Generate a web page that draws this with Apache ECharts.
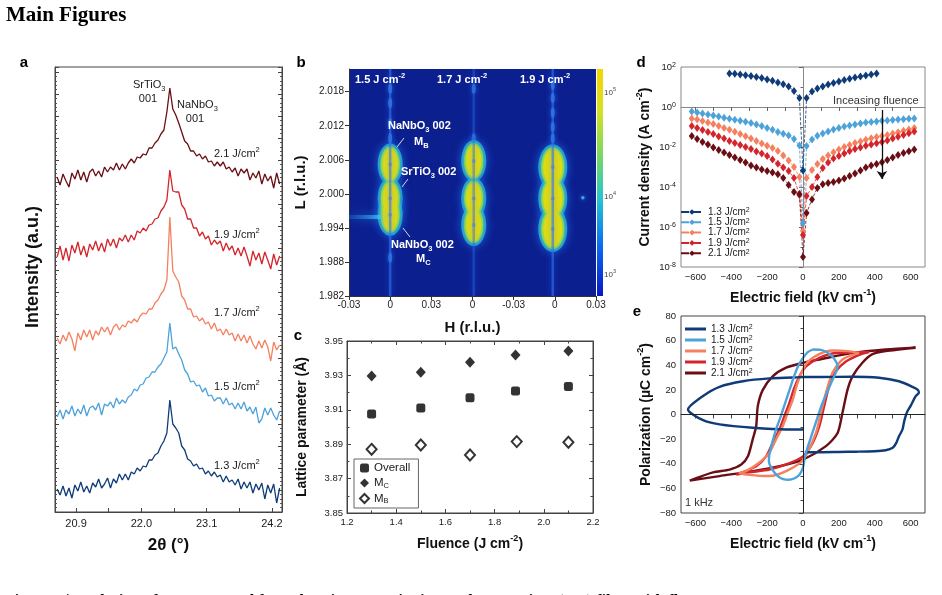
<!DOCTYPE html>
<html>
<head>
<meta charset="utf-8">
<title>Main Figures</title>
<script src="https://cdn.jsdelivr.net/npm/echarts@6/dist/echarts.min.js"></script>
<style>
html,body{margin:0;padding:0;background:#fff;}
#main{width:942px;height:595px;}
</style>
</head>
<body>
<div id="main"></div>
<script>
// ---- a : XRD 2theta scans, offset vertically (a.u.)
var twoTheta = [20.58,20.63,20.68,20.73,20.78,20.83,20.88,20.93,20.98,21.03,
  21.08,21.13,21.18,21.23,21.28,21.33,21.38,21.43,21.48,21.53,
  21.58,21.63,21.68,21.73,21.78,21.83,21.88,21.93,21.98,22.03,
  22.08,22.13,22.18,22.23,22.28,22.33,22.38,22.43,22.48,22.53,
  22.58,22.63,22.68,22.73,22.78,22.83,22.88,22.93,22.98,23.03,
  23.08,23.13,23.18,23.23,23.28,23.33,23.38,23.43,23.48,23.53,
  23.58,23.63,23.68,23.73,23.78,23.83,23.88,23.93,23.98,24.03,
  24.08,24.13,24.18,24.23,24.28,24.33];
var xrd13 = [23,17,26,16,24,14,27,21,30,20,26,19,29,25,33,24,28,34,24,33,
  29,38,32,38,32,40,38,44,41,46,45,52,52,57,59,66,71,79,112,88,
  84,79,66,62,53,51,46,48,43,44,38,41,36,40,35,37,30,36,30,32,
  27,33,23,30,24,30,19,28,22,29,13,27,19,28,9,24];
var xrd15 = [95,102,93,102,98,106,96,103,98,107,96,104,106,102,109,97,108,106,110,104,
  114,108,112,109,115,117,123,121,127,128,134,135,140,140,145,148,154,160,189,163,
  165,158,152,142,138,130,131,126,127,120,124,116,117,111,114,114,108,114,107,109,
  103,109,103,110,101,105,98,105,89,93,104,97,104,97,92,101];
var xrd17 = [174,168,177,171,180,173,161,179,172,182,175,182,172,181,177,185,180,185,177,185,
  188,182,187,185,191,189,193,190,196,199,198,203,203,209,212,218,222,232,295,241,
  235,230,216,212,203,203,195,196,191,194,188,190,183,189,181,183,177,183,177,179,
  171,178,171,177,169,176,168,163,171,164,172,165,151,170,162,167];
var xrd19 = [255,266,252,264,251,267,259,270,257,266,255,268,262,271,261,269,260,273,266,273,
  264,274,271,277,270,277,272,281,279,284,281,287,288,293,294,301,305,312,342,321,
  320,320,307,303,293,293,284,284,276,280,273,276,267,272,268,271,261,269,262,266,
  257,264,256,265,256,246,261,252,259,248,260,252,243,258,247,256];
var xrd21 = [335,327,338,331,325,339,333,342,332,340,330,340,343,336,341,335,345,340,345,342,
  349,342,348,343,349,353,349,355,354,358,357,364,364,369,372,378,382,400,424,403,
  397,389,380,371,368,361,361,356,358,353,356,350,351,346,350,346,350,343,345,340,
  344,336,343,339,343,332,339,334,341,328,338,331,336,324,339,328];
var xrdTickLabels = [20.9, 22.0, 23.1, 24.2];

// ---- b : reciprocal space maps around 002 (three maps side by side)
var rsmAxisTicks = ['-0.03', '0', '0.03', '0', '-0.03', '0', '0.03'];
var rsmTitles = ['1.5', '1.7', '1.9'];
var rsmCentreH = [1.0, 3.03, 4.95];
var rsmSpotL = [[2.0052, 1.9992, 1.9963], [2.0058, 1.9992, 1.9945], [2.0047, 1.9992, 1.9938]];
var rsmFringeL = [[2.0185, 2.016, 2.0125, 2.0098, 1.9888], [2.0185, 2.0098], [2.0192, 2.0169, 2.0143, 2.0118, 2.0098]];
var rsmLTicks = [1.982, 1.988, 1.994, 2.000, 2.006, 2.012, 2.018];

// ---- c : lattice parameters
var fluence = [1.3, 1.5, 1.7, 1.885, 2.1];
var fluenceMB = [1.3, 1.5, 1.7, 1.89, 2.1];
var latOverall = [3.9075, 3.911, 3.917, 3.921, 3.9235];
var latMC = [3.9297, 3.9318, 3.9376, 3.9419, 3.9442];
var latMB = [3.887, 3.8895, 3.8837, 3.8915, 3.8911];

// ---- d : leakage current, log10(J / A cm-2)
var fieldJ = [-620,-590,-560,-530,-500,-470,-440,-410,-380,-350,-320,-290,-260,-230,-200,-170,-140,-110,-80,-50,-20,
  0,20,50,80,110,140,170,200,230,260,290,320,350,380,410,440,470,500,530,560,590,620];
var logJ13 = ['-','-','-','-','-','-','-',1.68,1.66,1.62,1.59,1.55,1.50,1.45,1.38,1.31,1.23,1.14,1.02,0.80,0.45,
  -3.18,0.45,0.78,0.92,1.03,1.12,1.20,1.28,1.35,1.41,1.47,1.52,1.57,1.62,1.67,'-','-','-','-','-','-','-'];
var logJ15 = [-0.22,-0.27,-0.32,-0.37,-0.42,-0.48,-0.54,-0.59,-0.64,-0.69,-0.74,-0.80,-0.87,-0.95,-1.05,-1.14,-1.25,-1.34,-1.43,-1.60,-1.92,
  -5.8,-1.95,-1.62,-1.44,-1.32,-1.22,-1.12,-1.05,-0.98,-0.92,-0.87,-0.82,-0.78,-0.75,-0.72,-0.69,-0.67,-0.65,-0.63,-0.61,-0.59,-0.57];
var logJ17 = [-0.57,-0.63,-0.70,-0.77,-0.85,-0.95,-1.05,-1.14,-1.24,-1.35,-1.46,-1.58,-1.70,-1.82,-1.94,-2.05,-2.20,-2.42,-2.68,-3.00,-3.50,
  -6.2,-3.55,-3.15,-2.85,-2.60,-2.42,-2.26,-2.12,-2.00,-1.90,-1.80,-1.72,-1.64,-1.56,-1.50,-1.45,-1.40,-1.33,-1.26,-1.19,-1.12,-1.05];
var logJ19 = [-0.95,-1.05,-1.15,-1.25,-1.35,-1.47,-1.58,-1.70,-1.80,-1.90,-2.00,-2.10,-2.22,-2.33,-2.45,-2.62,-2.84,-3.02,-3.20,-3.55,-4.40,
  -6.4,-4.45,-4.00,-3.50,-3.05,-2.78,-2.58,-2.45,-2.33,-2.20,-2.10,-2.02,-1.94,-1.87,-1.81,-1.75,-1.68,-1.58,-1.49,-1.40,-1.31,-1.22];
var logJ21 = [-1.45,-1.60,-1.75,-1.88,-2.02,-2.15,-2.27,-2.40,-2.53,-2.65,-2.78,-2.92,-3.03,-3.12,-3.20,-3.28,-3.36,-3.55,-3.90,-4.25,-4.35,
  -7.5,-5.30,-4.62,-4.05,-3.86,-3.80,-3.75,-3.68,-3.58,-3.45,-3.33,-3.18,-3.03,-2.93,-2.85,-2.76,-2.65,-2.52,-2.40,-2.30,-2.21,-2.12];
var fieldTicks = [-600, -400, -200, 0, 200, 400, 600];

// ---- e : P-E hysteresis loops at 1 kHz
var loopE13 = [10,100,200,300,400,460,500,520,535,545,555,565,580,600,628,646,640,610,535,424,276,100,0,-57,-187,-335,-465,-557,-641,-557,-465,-280,-94,0];
var loopP13 = [-30.6,-30.6,-30.4,-30.2,-29.8,-29,-27,-23,-17.6,-15,-12,-5,2,7,15,17.6,20,22.5,27,29.8,30.6,30.5,30.4,30,29.3,27,22.5,15,4,-4.6,-8,-10.8,-12.2,-12.2];
var loopE15 = [54,100,140,175,193,180,155,128,100,75,50,25,10,0,-20,-50,-80,-110,-140,-170,-190,-188,-170,-150,-125,-100,-75,-50,-25,0,25,54];
var loopP15 = [52.8,52.5,50,45,39,33,25,16,6,-5,-16,-27,-35,-43,-49,-52,-53,-52.5,-50,-45,-38,-33,-22,-12,-2,9,20,31,40,46,50.5,52.8];
var loopE17 = [313,250,165,90,17,-30,-57,-85,-113,-150,-187,-243,-317,-354,-300,-187,-94,0,72,100,128,165,220,313];
var loopP17 = [50,51.5,52,49,41,26,12,1.4,-9.5,-20,-31,-39,-46,-47.5,-49,-50,-46,-37,-15,1.4,17.6,34,44.7,50];
var loopE19 = [369,313,239,183,91,17,-20,-48,-76,-104,-131,-169,-205,-261,-372,-300,-187,-94,0,54,91,118,146,183,239,313,369];
var loopP19 = [50.7,50.5,50.2,50,46,39,31,21.7,9.5,-1.4,-12,-23,-34,-42,-48.8,-47,-44.7,-40.6,-34,-23,-9.5,6.8,23,35,43,48.5,50.7];
var loopE21 = [628,461,276,91,0,-94,-169,-224,-252,-261,-280,-307,-344,-409,-502,-631,-465,-280,-131,0,128,193,220,248,276,331,387,461,628];
var loopP21 = [54.2,52.8,50,44.7,42,38,31,20,6.8,-9.5,-20,-34,-40.6,-44.7,-47,-53.7,-50,-46,-42,-36.6,-25.7,-15,1.4,20,31,42,49,51.5,54.2];

var fluenceNames = ['1.3', '1.5', '1.7', '1.9', '2.1'];
var fluenceColors = ['#0f3b78', '#4ea2da', '#f5805f', '#d3252b', '#6a0e15'];

var FONT = 'Liberation Sans, Arial, sans-serif';
var INK = '#1a1a1a';

function zip(xs, ys) {
  var out = [];
  for (var i = 0; i < xs.length; i++) {
    if (ys[i] !== '-') out.push([xs[i], ys[i]]);
  }
  return out;
}
function minusFmt(v) {
  return (v < 0 ? '\u2212' : '') + Math.abs(v);
}
function richSet(size, weight, fill) {
  return {
    n: {fontSize: size, lineHeight: size + 4, fontWeight: weight, fill: fill, color: fill, fontFamily: FONT},
    s: {fontSize: size * 0.68, lineHeight: size * 0.6, verticalAlign: 'bottom', fontWeight: weight, fill: fill, color: fill, fontFamily: FONT},
    p: {fontSize: size * 0.68, lineHeight: size * 0.6, verticalAlign: 'top', fontWeight: weight, fill: fill, color: fill, fontFamily: FONT}
  };
}
function txt(x, y, text, o) {
  o = o || {};
  var size = o.size || 11, weight = o.weight || 'normal', fill = o.fill || INK;
  return {
    type: 'text', x: x, y: y, rotation: o.rotation || 0, silent: true, z: 100,
    style: {
      text: text, fill: fill, fontSize: size, fontWeight: weight,
      fontFamily: o.family || FONT,
      align: o.align || 'left', textAlign: o.align || 'left',
      verticalAlign: o.valign || 'middle', textVerticalAlign: o.valign || 'middle',
      rich: richSet(size, weight, fill)
    }
  };
}
function axisName(size) {
  return {fontWeight: 'bold', fontSize: size, color: '#111', fontFamily: FONT, lineHeight: size + 6,
    rich: {p: {fontWeight: 'bold', fontSize: size * 0.65, lineHeight: size * 0.6, verticalAlign: 'top', color: '#111'}}};
}
function frameAxis(color) {
  return {show: true, lineStyle: {color: color, width: 1}};
}

var series = [];

// a
[xrd13, xrd15, xrd17, xrd19, xrd21].forEach(function (ys, i) {
  series.push({
    type: 'line', xAxisIndex: 0, yAxisIndex: 0, data: zip(twoTheta, ys),
    showSymbol: false, symbol: 'none', silent: true,
    lineStyle: {color: fluenceColors[i], width: 1.3}
  });
});

// b
rsmSpotL.forEach(function (ls, m) {
  var h = rsmCentreH[m];
  var spots = ls.map(function (l) { return [h, l]; });
  var fringes = rsmFringeL[m].map(function (l) { return [h, l]; });
  var w = m === 2 ? 19 : 15, hh = m === 2 ? 36 : 32;
  series.push({
    type: 'line', xAxisIndex: 1, yAxisIndex: 2, data: [[h, 1.982], [h, 2.022]],
    symbol: 'none', silent: true,
    lineStyle: {color: m === 1 ? 'rgba(40,100,230,0.45)' : 'rgba(45,115,240,0.6)', width: 2.5, shadowBlur: 6, shadowColor: 'rgba(40,110,255,0.8)'}
  });
  series.push({
    type: 'scatter', xAxisIndex: 1, yAxisIndex: 2, data: fringes, silent: true,
    symbol: 'circle', symbolSize: [4, 10],
    itemStyle: {color: 'rgba(70,165,240,0.65)', shadowBlur: 5, shadowColor: 'rgba(50,140,255,0.8)'}
  });
  if (m === 0) {
    series.push({
      type: 'line', xAxisIndex: 1, yAxisIndex: 2, data: [[0, 1.9959], [h - 0.2, 1.9959]],
      symbol: 'none', silent: true,
      lineStyle: {width: 4, shadowBlur: 10, shadowColor: 'rgba(40,150,255,0.9)',
        color: new echarts.graphic.LinearGradient(0, 0, 1, 0, [
          {offset: 0, color: 'rgba(30,110,240,0.25)'}, {offset: 0.6, color: 'rgba(50,170,240,0.6)'}, {offset: 1, color: 'rgba(70,210,230,0.9)'}])}
    });
  }
  series.push({
    type: 'scatter', xAxisIndex: 1, yAxisIndex: 2, data: spots, silent: true,
    symbol: 'circle', symbolSize: [w + 10, hh + 10],
    itemStyle: {color: '#2bb8d4', shadowBlur: 8, shadowColor: 'rgba(30,120,240,1)'}
  });
  series.push({
    type: 'scatter', xAxisIndex: 1, yAxisIndex: 2, data: spots, silent: true,
    symbol: 'circle', symbolSize: [w + 4, hh + 4],
    itemStyle: {color: '#8bd85a', shadowBlur: 2, shadowColor: '#8bd85a'}
  });
  series.push({
    type: 'scatter', xAxisIndex: 1, yAxisIndex: 2, data: spots, silent: true,
    symbol: 'circle', symbolSize: [w, hh],
    itemStyle: {color: '#eadc0a', shadowBlur: 3, shadowColor: '#d0e020'}
  });
});
series.push({
  type: 'scatter', xAxisIndex: 1, yAxisIndex: 2, silent: true,
  data: [].concat.apply([], rsmSpotL.map(function (ls, m) { return ls.map(function (l) { return [rsmCentreH[m], l]; }); })),
  symbol: 'circle', symbolSize: 4, itemStyle: {color: '#9d9cb0'}
});
series.push({
  type: 'scatter', xAxisIndex: 1, yAxisIndex: 2, silent: true, data: [[5.68, 1.9993]],
  symbol: 'circle', symbolSize: 3.5, itemStyle: {color: '#3fc6ef', shadowBlur: 4, shadowColor: '#3fa0ff'}
});

// c
series.push({
  name: 'Overall', type: 'scatter', xAxisIndex: 2, yAxisIndex: 3, data: zip(fluence, latOverall),
  symbol: 'roundRect', symbolSize: 9, itemStyle: {color: '#000'}
});
series.push({
  name: 'MC', type: 'scatter', xAxisIndex: 2, yAxisIndex: 3, data: zip(fluence, latMC),
  symbol: 'diamond', symbolSize: [10, 11], itemStyle: {color: '#000'}
});
series.push({
  name: 'MB', type: 'scatter', xAxisIndex: 2, yAxisIndex: 3, data: zip(fluenceMB, latMB),
  symbol: 'emptyDiamond', symbolSize: [10, 11], itemStyle: {color: '#000', borderWidth: 1.2}
});

// d
[logJ13, logJ15, logJ17, logJ19, logJ21].forEach(function (ys, i) {
  var s = {
    name: 'd' + fluenceNames[i], type: 'line', xAxisIndex: 4, yAxisIndex: 5, data: zip(fieldJ, ys),
    symbol: 'diamond', symbolSize: [6, 8], showAllSymbol: true, silent: true,
    itemStyle: {color: fluenceColors[i]},
    lineStyle: {color: fluenceColors[i], width: 0.8, type: 'dashed'}
  };
  if (i === 0) {
    s.markLine = {
      silent: true, symbol: ['none', 'arrow'], symbolSize: 8, animation: false,
      label: {show: false}, lineStyle: {color: '#111', width: 1.3, type: 'solid'},
      data: [[{coord: [440, -0.15]}, {coord: [440, -3.6]}]]
    };
  }
  series.push(s);
});

// e
var loops = [[loopE13, loopP13], [loopE15, loopP15], [loopE17, loopP17], [loopE19, loopP19], [loopE21, loopP21]];
[4, 3, 2, 0, 1].forEach(function (i) {
  var s = {
    name: 'e' + fluenceNames[i], type: 'line', xAxisIndex: 5, yAxisIndex: 6,
    data: zip(loops[i][0], loops[i][1]), symbol: 'none', smooth: 0.25, silent: true,
    itemStyle: {color: fluenceColors[i]},
    lineStyle: {color: fluenceColors[i], width: 2.4}
  };
  if (i === 4) {
    s.markLine = {
      silent: true, symbol: 'none', animation: false, label: {show: false},
      lineStyle: {color: '#222', width: 1, type: 'solid'},
      data: [{xAxis: 0}, {yAxis: 0}]
    };
  }
  series.push(s);
});

var legendRich = {
  n: {fontSize: 10, lineHeight: 10, color: INK, fontFamily: FONT},
  p: {fontSize: 7, lineHeight: 6, verticalAlign: 'top', color: INK, fontFamily: FONT}
};
function fluenceLegend(name) {
  return '{n|' + name.slice(1) + ' J/cm}{p|2}';
}

var option = {
  animation: false,
  textStyle: {fontFamily: FONT},
  grid: [
    {left: 55, top: 67, width: 227, height: 445, show: true, borderColor: '#444', borderWidth: 1},
    {left: 349, top: 69, width: 247, height: 227, show: true, borderWidth: 0, backgroundColor: '#0c1f8f'},
    {left: 347, top: 341, width: 246, height: 172, show: true, borderColor: '#444', borderWidth: 1},
    {left: 681, top: 67, width: 244, height: 200, show: true, borderColor: '#888', borderWidth: 1},
    {left: 681, top: 316, width: 244, height: 197, show: true, borderColor: '#444', borderWidth: 1}
  ],
  xAxis: [
    {gridIndex: 0, type: 'value', min: 20.545, max: 24.37,
      axisLine: frameAxis('#444'), splitLine: {show: false},
      axisTick: {inside: true, length: 4, customValues: [20.9, 21.45, 22.0, 22.55, 23.1, 23.65, 24.2], lineStyle: {color: '#444'}},
      axisLabel: {customValues: xrdTickLabels, formatter: function (v) { return v.toFixed(1); }, fontSize: 11, color: INK, margin: 6},
      name: '2\u03b8 (\u00b0)', nameLocation: 'middle', nameGap: 19, nameTextStyle: axisName(17)},
    {gridIndex: 1, type: 'value', min: 0, max: 6, interval: 1,
      axisLine: {show: true, lineStyle: {color: '#333'}}, splitLine: {show: false},
      axisTick: {length: 4, lineStyle: {color: '#333'}},
      axisLabel: {formatter: function (v) { return rsmAxisTicks[Math.round(v)]; }, fontSize: 10, color: INK, margin: 4},
      name: 'H (r.l.u.)', nameLocation: 'middle', nameGap: 21, nameTextStyle: axisName(15)},
    {gridIndex: 2, type: 'value', min: 1.2, max: 2.2, interval: 0.2,
      axisLine: frameAxis('#444'), splitLine: {show: false},
      axisTick: {inside: true, length: 4, lineStyle: {color: '#444'}},
      minorTick: {show: true, splitNumber: 2, length: 2.5, lineStyle: {color: '#444'}},
      axisLabel: {formatter: function (v) { return v.toFixed(1); }, fontSize: 9.5, color: INK, margin: 4},
      name: 'Fluence (J cm{p|-2})', nameLocation: 'middle', nameGap: 21, nameTextStyle: axisName(14)},
    {gridIndex: 2, type: 'value', position: 'top', min: 1.2, max: 2.2, interval: 0.2,
      axisLine: frameAxis('#444'), splitLine: {show: false}, axisLabel: {show: false},
      axisTick: {inside: true, length: 4, lineStyle: {color: '#444'}},
      minorTick: {show: true, splitNumber: 2, length: 2.5, lineStyle: {color: '#444'}}},
    {gridIndex: 3, type: 'value', min: -680, max: 680,
      axisLine: frameAxis('#888'), splitLine: {show: false},
      axisTick: {length: 4, customValues: [-600, -500, -400, -300, -200, -100, 0, 100, 200, 300, 400, 500, 600], lineStyle: {color: '#666'}},
      axisLabel: {customValues: fieldTicks, formatter: minusFmt, fontSize: 9.5, color: INK, margin: 5},
      name: 'Electric field (kV cm{p|-1})', nameLocation: 'middle', nameGap: 21, nameTextStyle: axisName(14)},
    {gridIndex: 4, type: 'value', min: -680, max: 680,
      axisLine: frameAxis('#444'), splitLine: {show: false},
      axisTick: {length: 4, customValues: [-600, -500, -400, -300, -200, -100, 0, 100, 200, 300, 400, 500, 600], lineStyle: {color: '#444'}},
      axisLabel: {customValues: fieldTicks, formatter: minusFmt, fontSize: 9.5, color: INK, margin: 5},
      name: 'Electric field (kV cm{p|-1})', nameLocation: 'middle', nameGap: 21, nameTextStyle: axisName(14)}
  ],
  yAxis: [
    {gridIndex: 0, type: 'value', min: 0, max: 445, interval: 22,
      axisLine: frameAxis('#444'), splitLine: {show: false}, axisLabel: {show: false},
      axisTick: {inside: true, length: 4, lineStyle: {color: '#444'}},
      minorTick: {show: true, splitNumber: 5, length: 2, lineStyle: {color: '#555'}}},
    {gridIndex: 0, type: 'value', position: 'right', min: 0, max: 445, interval: 22,
      axisLine: frameAxis('#444'), splitLine: {show: false}, axisLabel: {show: false},
      axisTick: {inside: true, length: 4, lineStyle: {color: '#444'}},
      minorTick: {show: true, splitNumber: 5, length: 2, lineStyle: {color: '#555'}}},
    {gridIndex: 1, type: 'value', min: 1.982, max: 2.022,
      axisLine: {show: true, lineStyle: {color: '#333'}}, splitLine: {show: false},
      axisTick: {length: 4, customValues: rsmLTicks, lineStyle: {color: '#333'}},
      axisLabel: {customValues: rsmLTicks, formatter: function (v) { return v.toFixed(3); }, fontSize: 10, color: INK, margin: 5},
      name: 'L (r.l.u.)', nameLocation: 'middle', nameGap: 38, nameTextStyle: axisName(15)},
    {gridIndex: 2, type: 'value', min: 3.85, max: 3.95, interval: 0.02,
      axisLine: frameAxis('#444'), splitLine: {show: false},
      axisTick: {inside: true, length: 4, lineStyle: {color: '#444'}},
      minorTick: {show: true, splitNumber: 2, length: 2.5, lineStyle: {color: '#444'}},
      axisLabel: {formatter: function (v) { return v.toFixed(2); }, fontSize: 9.5, color: INK, margin: 4},
      name: 'Lattice parameter (\u00c5)', nameLocation: 'middle', nameGap: 35, nameTextStyle: axisName(14)},
    {gridIndex: 2, type: 'value', position: 'right', min: 3.85, max: 3.95, interval: 0.02,
      axisLine: frameAxis('#444'), splitLine: {show: false}, axisLabel: {show: false},
      axisTick: {inside: true, length: 4, lineStyle: {color: '#444'}},
      minorTick: {show: true, splitNumber: 2, length: 2.5, lineStyle: {color: '#444'}}},
    {gridIndex: 3, type: 'value', min: -8, max: 2, interval: 2,
      axisLine: frameAxis('#888'), splitLine: {show: false},
      axisTick: {length: 4, lineStyle: {color: '#666'}},
      minorTick: {show: true, splitNumber: 2, length: 2.5, lineStyle: {color: '#666'}},
      axisLabel: {formatter: function (v) { return '{n|10}{p|' + v + '}'; }, color: INK, margin: 5,
        rich: {n: {fontSize: 9.5, color: INK}, p: {fontSize: 7, verticalAlign: 'top', lineHeight: 6, color: INK}}},
      name: 'Current density (A cm{p|-2})', nameLocation: 'middle', nameGap: 22, nameTextStyle: axisName(14)},
    {gridIndex: 4, type: 'value', min: -80, max: 80, interval: 20,
      axisLine: frameAxis('#444'), splitLine: {show: false},
      axisTick: {length: 4, lineStyle: {color: '#444'}},
      minorTick: {show: true, splitNumber: 2, length: 2.5, lineStyle: {color: '#444'}},
      axisLabel: {formatter: minusFmt, fontSize: 9.5, color: INK, margin: 5},
      name: 'Polarization (\u00b5C cm{p|-2})', nameLocation: 'middle', nameGap: 24, nameTextStyle: axisName(14)}
  ],
  legend: [
    {data: ['Overall', 'MC', 'MB'], left: 354, top: 459, orient: 'vertical', selectedMode: false,
      itemWidth: 9, itemHeight: 9, itemGap: 3, padding: [3, 8, 3, 5], borderColor: '#666', borderWidth: 1,
      formatter: function (name) { return name === 'Overall' ? '{n|Overall}' : '{n|M}{s|' + name.charAt(1) + '}'; },
      textStyle: {rich: {n: {fontSize: 11.5, lineHeight: 13, color: INK, fontFamily: FONT},
        s: {fontSize: 7.5, lineHeight: 6, verticalAlign: 'bottom', color: INK, fontFamily: FONT}}}},
    {data: fluenceNames.map(function (f) { return 'd' + f; }), left: 680, top: 207, orient: 'vertical', selectedMode: false,
      itemWidth: 22, itemHeight: 7, itemGap: 0.3, padding: 0,
      formatter: fluenceLegend, textStyle: {rich: legendRich}},
    {data: fluenceNames.map(function (f) { return 'e' + f; }), left: 685, top: 324, orient: 'vertical', selectedMode: false,
      icon: 'rect', itemWidth: 21, itemHeight: 3, itemGap: 1, padding: 0,
      formatter: fluenceLegend, textStyle: {rich: legendRich}}
  ],
  graphic: [
    txt(6, 16, 'Main Figures', {size: 21, weight: 'bold', family: 'Liberation Serif, Times New Roman, serif', fill: '#000'}),
    txt(24, 63, 'a', {size: 15, weight: 'bold', align: 'center', fill: '#000'}),
    txt(301, 63, 'b', {size: 15, weight: 'bold', align: 'center', fill: '#000'}),
    txt(298, 336, 'c', {size: 15, weight: 'bold', align: 'center', fill: '#000'}),
    txt(641, 63, 'd', {size: 15, weight: 'bold', align: 'center', fill: '#000'}),
    txt(637, 312, 'e', {size: 15, weight: 'bold', align: 'center', fill: '#000'}),
    // a labels
    txt(33, 267, 'Intensity (a.u.)', {size: 18, weight: 'bold', align: 'center', fill: '#111', rotation: Math.PI / 2}),
    txt(133, 85, '{n|SrTiO}{s|3}', {size: 11}),
    txt(148, 99, '001', {size: 11, align: 'center'}),
    txt(177, 105, '{n|NaNbO}{s|3}', {size: 11}),
    txt(195, 119, '001', {size: 11, align: 'center'}),
    txt(214, 154, '{n|2.1 J/cm}{p|2}', {size: 11}),
    txt(214, 235, '{n|1.9 J/cm}{p|2}', {size: 11}),
    txt(214, 313, '{n|1.7 J/cm}{p|2}', {size: 11}),
    txt(214, 387, '{n|1.5 J/cm}{p|2}', {size: 11}),
    txt(214, 466, '{n|1.3 J/cm}{p|2}', {size: 11}),
    // b labels
    txt(355, 80, '{n|' + rsmTitles[0] + ' J cm}{p|-2}', {size: 11, weight: 'bold', fill: '#fff'}),
    txt(437, 80, '{n|' + rsmTitles[1] + ' J cm}{p|-2}', {size: 11, weight: 'bold', fill: '#fff'}),
    txt(520, 80, '{n|' + rsmTitles[2] + ' J cm}{p|-2}', {size: 11, weight: 'bold', fill: '#fff'}),
    txt(388, 126, '{n|NaNbO}{s|3}{n| 002}', {size: 11, weight: 'bold', fill: '#fff'}),
    txt(414, 142, '{n|M}{s|B}', {size: 11, weight: 'bold', fill: '#fff'}),
    txt(401, 172, '{n|SrTiO}{s|3}{n| 002}', {size: 11, weight: 'bold', fill: '#fff'}),
    txt(391, 245, '{n|NaNbO}{s|3}{n| 002}', {size: 11, weight: 'bold', fill: '#fff'}),
    txt(416, 259, '{n|M}{s|C}', {size: 11, weight: 'bold', fill: '#fff'}),
    {type: 'line', silent: true, z: 100, shape: {x1: 404, y1: 138, x2: 397, y2: 147}, style: {stroke: '#d8d8e0', lineWidth: 1}},
    {type: 'line', silent: true, z: 100, shape: {x1: 408, y1: 179, x2: 402, y2: 187}, style: {stroke: '#d8d8e0', lineWidth: 1}},
    {type: 'line', silent: true, z: 100, shape: {x1: 410, y1: 237, x2: 403, y2: 228}, style: {stroke: '#d8d8e0', lineWidth: 1}},
    {type: 'rect', silent: true, z: 100, shape: {x: 597, y: 69, width: 6, height: 227},
      style: {fill: new echarts.graphic.LinearGradient(0, 0, 0, 1, [
        {offset: 0, color: '#f4d400'}, {offset: 0.18, color: '#d8e020'}, {offset: 0.38, color: '#7ad860'},
        {offset: 0.58, color: '#22c4d4'}, {offset: 0.78, color: '#0a6cf0'}, {offset: 1, color: '#0a16c8'}])}},
    txt(604, 93, '{n|10}{p|5}', {size: 8, fill: '#444'}),
    txt(604, 197, '{n|10}{p|4}', {size: 8, fill: '#444'}),
    txt(604, 275, '{n|10}{p|3}', {size: 8, fill: '#444'}),
    // d, e notes
    txt(833, 101, 'Inceasing fluence', {size: 11, fill: '#333'}),
    txt(685, 503, '1 kHz', {size: 11, fill: '#333'}),
    txt(5, 602, 'Figure 1 | Evolution of structure and ferroelectric properties in NaNbO3/SrTiO3 (001) films with fluence', {size: 16, weight: 'bold', family: 'Liberation Serif, serif', fill: '#000'})
  ],
  series: series
};

var chart = echarts.init(document.getElementById('main'), null, {renderer: 'canvas'});
chart.setOption(option);
</script>
</body>
</html>
